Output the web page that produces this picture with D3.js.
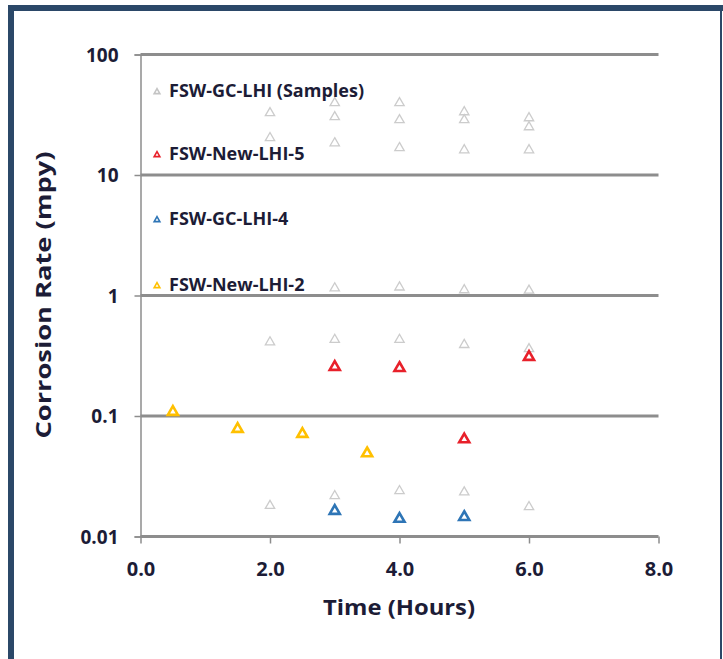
<!DOCTYPE html>
<html><head><meta charset="utf-8">
<script src="https://cdn.jsdelivr.net/npm/d3@7"></script>
<style>body{margin:0;background:#fff}svg{display:block}</style>
</head><body>
<script>
// ---- data ----
const yTicks = [0.01, 0.1, 1, 10, 100];
const yTickLabels = ["0.01", "0.1", "1", "10", "100"];
const xTicks = [0, 2, 4, 6, 8];
const xTickLabels = ["0.0", "2.0", "4.0", "6.0", "8.0"];

const samplesTime  = [2, 2, 2, 2,   3, 3, 3, 3, 3, 3,   4, 4, 4, 4, 4, 4,   5, 5, 5, 5, 5, 5,   6, 6, 6, 6, 6, 6];
const samplesValue = [32.7, 20.3, 0.41, 0.018,
                      39.6, 30.3, 18.4, 1.15, 0.43, 0.0217,
                      39.6, 28.6, 16.8, 1.17, 0.43, 0.0239,
                      33.3, 28.6, 16.1, 1.11, 0.39, 0.0233,
                      29.7, 25.0, 16.1, 1.10, 0.36, 0.0176];

const new5Time  = [3, 4, 5, 6];
const new5Value = [0.255, 0.25, 0.064, 0.309];

const gc4Time  = [3, 4, 5];
const gc4Value = [0.0163, 0.014, 0.0145];

const new2Time  = [0.5, 1.5, 2.5, 3.5];
const new2Value = [0.108, 0.078, 0.071, 0.049];

const legendLabels = ["FSW-GC-LHI (Samples)", "FSW-New-LHI-5", "FSW-GC-LHI-4", "FSW-New-LHI-2"];
const legendColors = ["#c4c4c4", "#e8202a", "#2e75b6", "#ffc000"];

const xTitle = "Time (Hours)";
const yTitle = "Corrosion Rate (mpy)";

// ---- drawing ----
const W = 723, H = 659;
const svg = d3.select("body").append("svg").attr("width", W).attr("height", H);
const font = "'Open Sans', sans-serif";
const textColor = "#1c1c36";

// frame
svg.append("rect").attr("x", 8).attr("y", 5).attr("width", 715).attr("height", 6).attr("fill", "#2b4868");
svg.append("rect").attr("x", 8).attr("y", 5).attr("width", 6).attr("height", 654).attr("fill", "#2b4868");
svg.append("rect").attr("x", 720).attr("y", 5).attr("width", 2).attr("height", 654).attr("fill", "#2b4868");

const x = d3.scaleLinear().domain([0, 8]).range([140.5, 658.5]);
const y = d3.scaleLog().domain([0.01, 100]).range([536.5, 54.5]);

// gridlines
svg.append("g").selectAll("line").data(yTicks).join("line")
  .attr("x1", x(0)).attr("x2", x(8))
  .attr("y1", d => y(d)).attr("y2", d => y(d))
  .attr("stroke", "#8d8d8d").attr("stroke-width", 3);

// y axis
const yAxis = d3.axisLeft(y).tickValues(yTicks).tickSize(6).tickFormat((d, i) => yTickLabels[i]);
const gy = svg.append("g").attr("transform", `translate(${x(0)},0)`).call(yAxis);
gy.select(".domain").attr("stroke", "#8d8d8d").attr("stroke-width", 1.5);
gy.selectAll(".tick line").attr("stroke", "#8d8d8d").attr("stroke-width", 1.5);
gy.selectAll(".tick text").attr("x", -22).attr("dy", "0.36em")
  .style("font-family", font).style("font-weight", "bold").style("font-size", "19px").attr("fill", textColor);

// x axis
const xAxis = d3.axisBottom(x).tickValues(xTicks).tickSize(7).tickFormat((d, i) => xTickLabels[i]);
const gx = svg.append("g").attr("transform", `translate(0,${y(0.01)})`).call(xAxis);
gx.select(".domain").remove();
gx.selectAll(".tick line").attr("stroke", "#8d8d8d").attr("stroke-width", 1.5);
gx.selectAll(".tick text").attr("y", 25).attr("dy", "0.71em")
  .style("font-family", font).style("font-weight", "bold").style("font-size", "20px").attr("fill", textColor);

// titles
svg.append("text").attr("x", 399).attr("y", 615).attr("text-anchor", "middle")
  .attr("textLength", 152).attr("lengthAdjust", "spacingAndGlyphs")
  .style("font-family", font).style("font-weight", "bold").style("font-size", "22px").attr("fill", textColor).text(xTitle);
svg.append("text").attr("transform", "translate(51,295) rotate(-90)").attr("text-anchor", "middle")
  .attr("textLength", 287).attr("lengthAdjust", "spacingAndGlyphs")
  .style("font-family", font).style("font-weight", "bold").style("font-size", "22px").attr("fill", textColor).text(yTitle);

// markers
const tri = d3.symbol().type(d3.symbolTriangle);
function drawSeries(times, values, color, size, sw) {
  svg.append("g").selectAll("path").data(times.map((t, i) => [t, values[i]])).join("path")
    .attr("d", tri.size(size)())
    .attr("transform", d => `translate(${x(d[0])},${y(d[1])})`)
    .attr("fill", "#fff").attr("stroke", color).attr("stroke-width", sw);
}
drawSeries(samplesTime, samplesValue, "#cccccc", 38, 1.3);
drawSeries(new2Time, new2Value, legendColors[3], 44, 2.6);
drawSeries(new5Time, new5Value, legendColors[1], 44, 2.6);
drawSeries(gc4Time, gc4Value, legendColors[2], 44, 2.6);

// legend
const legendY = [91, 154, 219, 285];
const lg = svg.append("g");
legendLabels.forEach((lab, i) => {
  lg.append("path").attr("d", d3.symbol().type(d3.symbolTriangle).size(14)())
    .attr("transform", `translate(157,${legendY[i] + 1})`)
    .attr("fill", "#fff").attr("stroke", legendColors[i]).attr("stroke-width", 1.6);
  lg.append("text").attr("x", 169).attr("y", legendY[i]).attr("dy", "0.36em")
    .style("font-family", font).style("font-weight", "bold").style("font-size", "18px")
    .attr("fill", textColor).text(lab);
});
</script>
</body></html>
